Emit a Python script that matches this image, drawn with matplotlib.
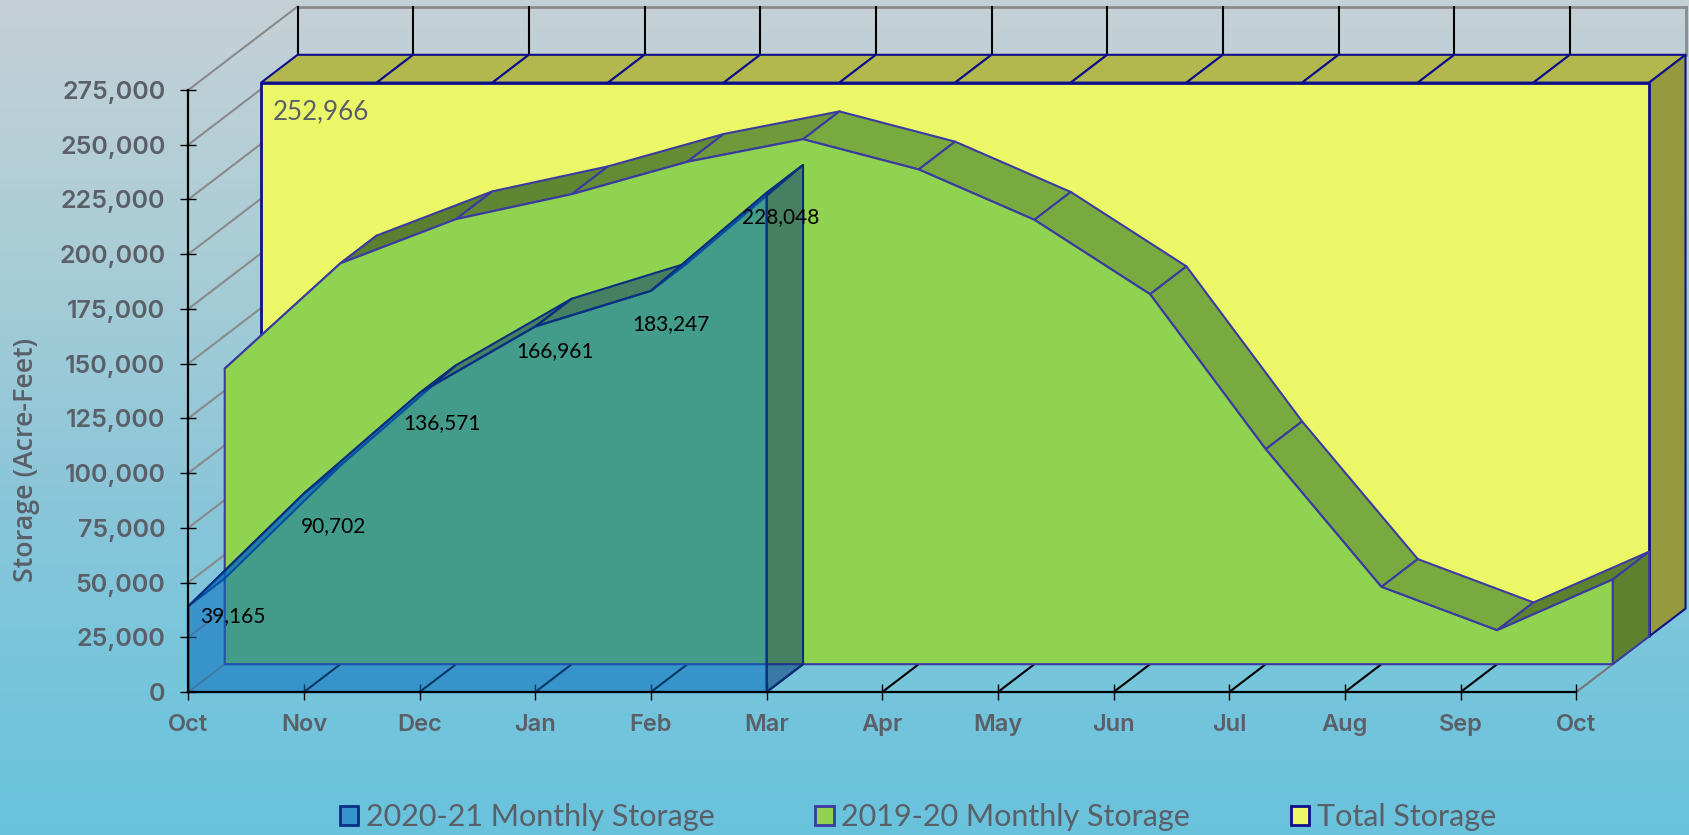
#!/usr/bin/env python3

# plot.py - reservoir storage chart, fake 3d look with stacked depth layers

import numpy as np
import matplotlib
matplotlib.use("Agg")
import matplotlib.pyplot as plt
from matplotlib.patches import Patch

months = ["Oct", "Nov", "Dec", "Jan", "Feb", "Mar", "Apr", "May", "Jun", "Jul", "Aug", "Sep", "Oct"]
storage_ticks = [0, 25000, 50000, 75000, 100000, 125000, 150000, 175000, 200000, 225000, 250000, 275000]

total_storage = [252966] * 13
storage_2019 = [135000, 183100, 203300, 214700, 229500, 239800, 226000, 203000, 169000, 98200, 35300, 15500, 38700]
storage_2020 = [39165, 90702, 136571, 166961, 183247, 228048]

# label shift from the point, in pixels
label_shift = [(45, -10), (30, -33), (22, -30), (20, -25), (20, -33), (14, -24)]

# depth of one layer, in data units
DX = 36.4 / 115.67
DY = 27.8 / 54.73 * 25000

GREY_TEXT = "#5a5f68"
NAVY = "#10108a"
GREEN_EDGE = "#3a3aa0"
BLUE_EDGE = "#0b2f80"

# top face colour of each green segment, darker when it climbs
green_tops = ["#5a7f30", "#5a7f30", "#5f8633", "#648c35", "#6f9a3c", "#78aa40", "#78aa40",
              "#78aa40", "#78aa40", "#78aa40", "#78aa40", "#5c8230"]


def pt(x, y, z):
    return (x + z * DX, y + z * DY)


def quad(ax, corners, color, edge, zorder, alpha=None, lw=1.5):
    xs = [c[0] for c in corners]
    ys = [c[1] for c in corners]
    # alpha goes in the face only, edges stay solid
    face = matplotlib.colors.to_rgba(color, alpha if alpha is not None else 1)
    ax.fill(xs, ys, facecolor=face, edgecolor=edge, linewidth=lw, zorder=zorder, joinstyle="round")


fig = plt.figure(figsize=(16.9, 8.35), dpi=100)
ax = fig.add_axes([0, 0, 1, 1])

# map data to pixels: Oct at x=188.3, zero at y=692
ax.set_xlim(-188.3 / 115.67, (1690 - 188.3) / 115.67)
ax.set_ylim(-(835 - 692) / 54.73 * 25000, 692 / 54.73 * 25000)

# background gradient
stops_y = [0, 250, 500, 700, 835]
stops_c = np.array([[198, 209, 214], [170, 205, 214], [138, 198, 217], [116, 197, 220], [105, 194, 220]]) / 255
rows = np.arange(835)
grad = np.stack([np.interp(rows, stops_y, stops_c[:, i]) for i in range(3)], axis=1)
grad = np.tile(grad[:, None, :], (1, 1690, 1))
ax.imshow(grad, extent=(*ax.get_xlim(), *ax.get_ylim()), origin="upper", aspect="auto", zorder=0)
ax.set_xlim(-188.3 / 115.67, (1690 - 188.3) / 115.67)
ax.set_ylim(-(835 - 692) / 54.73 * 25000, 692 / 54.73 * 25000)

# walls
for v in storage_ticks:
    a, b = pt(0, v, 0), pt(0, v, 3)
    ax.plot([a[0], b[0]], [a[1], b[1]], color="#8a8a8a", lw=1.5, zorder=1)
top = storage_ticks[-1]
a, b = pt(0, top, 3), pt(12, top, 3)
ax.plot([a[0], b[0]], [a[1], b[1]], color="#8a8a8a", lw=2, zorder=1)
a, b = pt(12, top, 3), pt(12, total_storage[-1], 3)
ax.plot([a[0], b[0]], [a[1], b[1]], color="#8a8a8a", lw=2, zorder=1)
for i in range(12):
    a, b = pt(i, top, 3), pt(i, total_storage[i], 3)
    ax.plot([a[0], b[0]], [a[1], b[1]], color="black", lw=1.5, zorder=1.1)

# floor lines
for i in range(1, 12):
    a, b = pt(i, 0, 0), pt(i, 0, 1)
    ax.plot([a[0], b[0]], [a[1], b[1]], color="black", lw=1.5, zorder=1)
a, b = pt(12, 0, 0), pt(12, 0, 1)
ax.plot([a[0], b[0]], [a[1], b[1]], color="#777777", lw=1.5, zorder=1)

# yellow layer
for i in range(12):
    quad(ax, [pt(i, total_storage[i], 2), pt(i + 1, total_storage[i + 1], 2),
              pt(i + 1, total_storage[i + 1], 3), pt(i, total_storage[i], 3)],
         "#b3b84e", NAVY, 2)
quad(ax, [pt(12, 0, 2), pt(12, 0, 3), pt(12, total_storage[-1], 3), pt(12, total_storage[-1], 2)],
     "#959a3e", NAVY, 2)
quad(ax, [pt(0, 0, 2), pt(12, 0, 2), pt(12, total_storage[-1], 2), pt(0, total_storage[0], 2)],
     "#ebf767", NAVY, 2.1, lw=2)

# green layer
for i in range(12):
    quad(ax, [pt(i, storage_2019[i], 1), pt(i + 1, storage_2019[i + 1], 1),
              pt(i + 1, storage_2019[i + 1], 2), pt(i, storage_2019[i], 2)],
         green_tops[i], GREEN_EDGE, 3)
quad(ax, [pt(12, 0, 1), pt(12, 0, 2), pt(12, storage_2019[-1], 2), pt(12, storage_2019[-1], 1)],
     "#5c8230", GREEN_EDGE, 3)
front = [pt(i, v, 1) for i, v in enumerate(storage_2019)]
quad(ax, [pt(0, 0, 1), pt(12, 0, 1)] + front[::-1], "#8fd350", GREEN_EDGE, 3.1)

# blue layer, see through
BLUE_ALPHA = 0.53
n = len(storage_2020) - 1
depth_slope = DY / DX
for i in range(n):
    climbs = storage_2020[i + 1] - storage_2020[i]
    colour = "#006abe" if climbs > depth_slope else "#063775"
    quad(ax, [pt(i, storage_2020[i], 0), pt(i + 1, storage_2020[i + 1], 0),
              pt(i + 1, storage_2020[i + 1], 1), pt(i, storage_2020[i], 1)],
         colour, BLUE_EDGE, 4, alpha=BLUE_ALPHA)
quad(ax, [pt(n, 0, 0), pt(n, 0, 1), pt(n, storage_2020[n], 1), pt(n, storage_2020[n], 0)],
     "#063775", BLUE_EDGE, 4, alpha=BLUE_ALPHA)
front = [pt(i, v, 0) for i, v in enumerate(storage_2020)]
quad(ax, [pt(0, 0, 0), pt(n, 0, 0)] + front[::-1], "#006abe", BLUE_EDGE, 4.1, alpha=BLUE_ALPHA)

# axes
for side in ["top", "right"]:
    ax.spines[side].set_visible(False)
ax.spines["left"].set_position(("data", 0))
ax.spines["left"].set_bounds(0, top)
ax.spines["left"].set_linewidth(1.6)
ax.spines["bottom"].set_position(("data", 0))
ax.spines["bottom"].set_bounds(0, 12)
ax.spines["bottom"].set_linewidth(1.6)
ax.spines["left"].set_zorder(6)
ax.spines["bottom"].set_zorder(6)

ax.set_yticks(storage_ticks)
ax.set_yticklabels(["{:,}".format(v) for v in storage_ticks])
ax.set_xticks(range(len(months)))
ax.set_xticklabels(months)
ax.tick_params(axis="both", direction="inout", length=12, width=1, colors="black", zorder=7)
ax.tick_params(axis="y", pad=10.5, labelcolor=GREY_TEXT)
ax.tick_params(axis="x", pad=10, labelcolor=GREY_TEXT)
for lab in ax.get_xticklabels():
    lab.set_fontfamily("Inter")
    lab.set_fontweight("semibold")
    lab.set_fontsize(17)
for lab in ax.get_yticklabels():
    lab.set_fontfamily("Inter")
    lab.set_fontweight("semibold")
    lab.set_fontsize(18)

ax.set_ylabel("Storage (Acre-Feet)", family="Open Sans", fontsize=19.3, fontweight="semibold", color=GREY_TEXT)
ax.yaxis.set_label_coords(40 / 1690, (835 - 460) / 835)

# value labels
for i, v in enumerate(storage_2020):
    ax.annotate("{:,}".format(v), xy=pt(i, v, 0), xytext=label_shift[i], textcoords="offset pixels",
                ha="center", va="center", family="Lato", fontsize=15, color="black", zorder=8)
ax.annotate("{:,}".format(total_storage[0]), xy=pt(0, total_storage[0], 2), xytext=(12, -29),
            textcoords="offset pixels", ha="left", va="center", family="Lato", fontsize=18.7,
            color=GREY_TEXT, zorder=8)

handles = [Patch(facecolor="#3694cc", edgecolor="#0b2f80", lw=2, label="2020-21 Monthly Storage"),
           Patch(facecolor="#8fd350", edgecolor=GREEN_EDGE, lw=2, label="2019-20 Monthly Storage"),
           Patch(facecolor="#ecf866", edgecolor=NAVY, lw=2, label="Total Storage")]
leg = ax.legend(handles=handles, ncol=3, frameon=False, loc="center", bbox_to_anchor=(918 / 1690, 18 / 835),
                prop={"family": "Lato", "size": 22}, handlelength=0.6, handleheight=0.6,
                handletextpad=0.25, columnspacing=3.3, labelcolor=GREY_TEXT)

fig.savefig("out.png", dpi=100)
